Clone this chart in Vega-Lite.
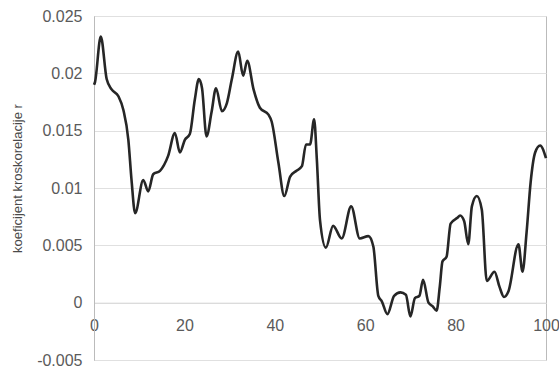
{
  "$schema": "https://vega.github.io/schema/vega-lite/v6.json",
  "width": 452,
  "height": 344,
  "autosize": "none",
  "padding": {"left": 94, "top": 16, "right": 13, "bottom": 6},
  "background": "white",
  "config": {
    "view": {"stroke": "#bbbbbb", "strokeWidth": 1},
    "font": "Liberation Sans"
  },
  "data": {
    "values": [
      {"lag": 0, "r": 0.0190},
      {"lag": 0.2, "r": 0.0192},
      {"lag": 1.5, "r": 0.0232},
      {"lag": 2.8, "r": 0.0195},
      {"lag": 3.9, "r": 0.0186},
      {"lag": 5.4, "r": 0.0180},
      {"lag": 6.5, "r": 0.0168},
      {"lag": 7.6, "r": 0.0142},
      {"lag": 8.3, "r": 0.0107},
      {"lag": 9.1, "r": 0.0078},
      {"lag": 10.9, "r": 0.0107},
      {"lag": 12.0, "r": 0.0097},
      {"lag": 13.1, "r": 0.0112},
      {"lag": 14.6, "r": 0.0115},
      {"lag": 16.4, "r": 0.0128},
      {"lag": 17.9, "r": 0.0148},
      {"lag": 19.0, "r": 0.0131},
      {"lag": 20.1, "r": 0.0142},
      {"lag": 21.2, "r": 0.0147},
      {"lag": 22.3, "r": 0.0177},
      {"lag": 23.2, "r": 0.0195},
      {"lag": 23.9, "r": 0.0187},
      {"lag": 24.9, "r": 0.0145},
      {"lag": 26.0, "r": 0.0166},
      {"lag": 27.0, "r": 0.0187},
      {"lag": 28.3, "r": 0.0167},
      {"lag": 29.4, "r": 0.0174},
      {"lag": 30.5, "r": 0.0195},
      {"lag": 31.9, "r": 0.0219},
      {"lag": 33.0, "r": 0.0198},
      {"lag": 33.9, "r": 0.0211},
      {"lag": 35.3, "r": 0.0186},
      {"lag": 36.7, "r": 0.0170},
      {"lag": 38.6, "r": 0.0164},
      {"lag": 39.3, "r": 0.0158},
      {"lag": 40.8, "r": 0.0122},
      {"lag": 42.1, "r": 0.0093},
      {"lag": 43.4, "r": 0.0110},
      {"lag": 44.8, "r": 0.0115},
      {"lag": 46.0, "r": 0.0119},
      {"lag": 46.9, "r": 0.0138},
      {"lag": 47.8, "r": 0.0138},
      {"lag": 48.7, "r": 0.0160},
      {"lag": 49.3, "r": 0.0125},
      {"lag": 50.0, "r": 0.0072},
      {"lag": 51.3, "r": 0.0048},
      {"lag": 52.9, "r": 0.0067},
      {"lag": 54.8, "r": 0.0056},
      {"lag": 56.9, "r": 0.0084},
      {"lag": 58.8, "r": 0.0056},
      {"lag": 60.7, "r": 0.0058},
      {"lag": 61.8, "r": 0.0049},
      {"lag": 62.9, "r": 0.0006},
      {"lag": 63.7, "r": 0.0001},
      {"lag": 64.9, "r": -0.0010},
      {"lag": 66.4, "r": 0.0006},
      {"lag": 67.8, "r": 0.0009},
      {"lag": 69.0, "r": 0.0007},
      {"lag": 70.0, "r": -0.0012},
      {"lag": 71.0, "r": 0.0004},
      {"lag": 72.0, "r": 0.0006},
      {"lag": 72.8, "r": 0.0020},
      {"lag": 74.0, "r": 0.0000},
      {"lag": 74.9, "r": -0.0003},
      {"lag": 75.8, "r": -0.0007},
      {"lag": 76.5, "r": 0.0014},
      {"lag": 77.1, "r": 0.0036},
      {"lag": 78.0, "r": 0.0040},
      {"lag": 78.9, "r": 0.0069},
      {"lag": 80.4, "r": 0.0074},
      {"lag": 81.0, "r": 0.0076},
      {"lag": 81.9, "r": 0.0071},
      {"lag": 82.8, "r": 0.0051},
      {"lag": 83.6, "r": 0.0084},
      {"lag": 84.7, "r": 0.0093},
      {"lag": 85.8, "r": 0.0081},
      {"lag": 86.9, "r": 0.0019},
      {"lag": 88.6, "r": 0.0027},
      {"lag": 89.7, "r": 0.0014},
      {"lag": 90.7, "r": 0.0005},
      {"lag": 91.7, "r": 0.0010},
      {"lag": 93.9, "r": 0.0051},
      {"lag": 94.8, "r": 0.0027},
      {"lag": 95.7, "r": 0.0061},
      {"lag": 96.6, "r": 0.0105},
      {"lag": 97.6, "r": 0.0131},
      {"lag": 98.7, "r": 0.0137},
      {"lag": 100, "r": 0.0126}
    ]
  },
  "mark": {"type": "line", "interpolate": "monotone", "color": "#262626", "strokeWidth": 2.6},
  "encoding": {
    "x": {
      "field": "lag",
      "type": "quantitative",
      "scale": {"domain": [0, 100], "nice": false, "zero": false},
      "axis": {
        "values": [0, 20, 40, 60, 80, 100],
        "offset": -57.33,
        "title": null,
        "grid": false,
        "ticks": false,
        "domainColor": "#d8d8d8",
        "labelFontSize": 16,
        "labelColor": "#5a5a5a",
        "labelPadding": 15,
        "labelFlush": false
      }
    },
    "y": {
      "field": "r",
      "type": "quantitative",
      "scale": {"domain": [-0.005, 0.025], "nice": false, "zero": false},
      "axis": {
        "values": [-0.005, 0, 0.005, 0.01, 0.015, 0.02, 0.025],
        "format": "~g",
        "labelExpr": "replace(datum.label, '\u2212', '-')",
        "title": "koeficijent kroskorelacije r",
        "titleFontSize": 13,
        "titleFontWeight": "normal",
        "titleColor": "#4a4a4a",
        "titleX": -77,
        "titleY": 162,
        "titleBaseline": "middle",
        "titleAngle": -90,
        "grid": true,
        "gridColor": "#e0e0e0",
        "ticks": false,
        "domainColor": "#bbbbbb",
        "labelFontSize": 16,
        "labelColor": "#5a5a5a",
        "labelPadding": 12
      }
    }
  }
}
